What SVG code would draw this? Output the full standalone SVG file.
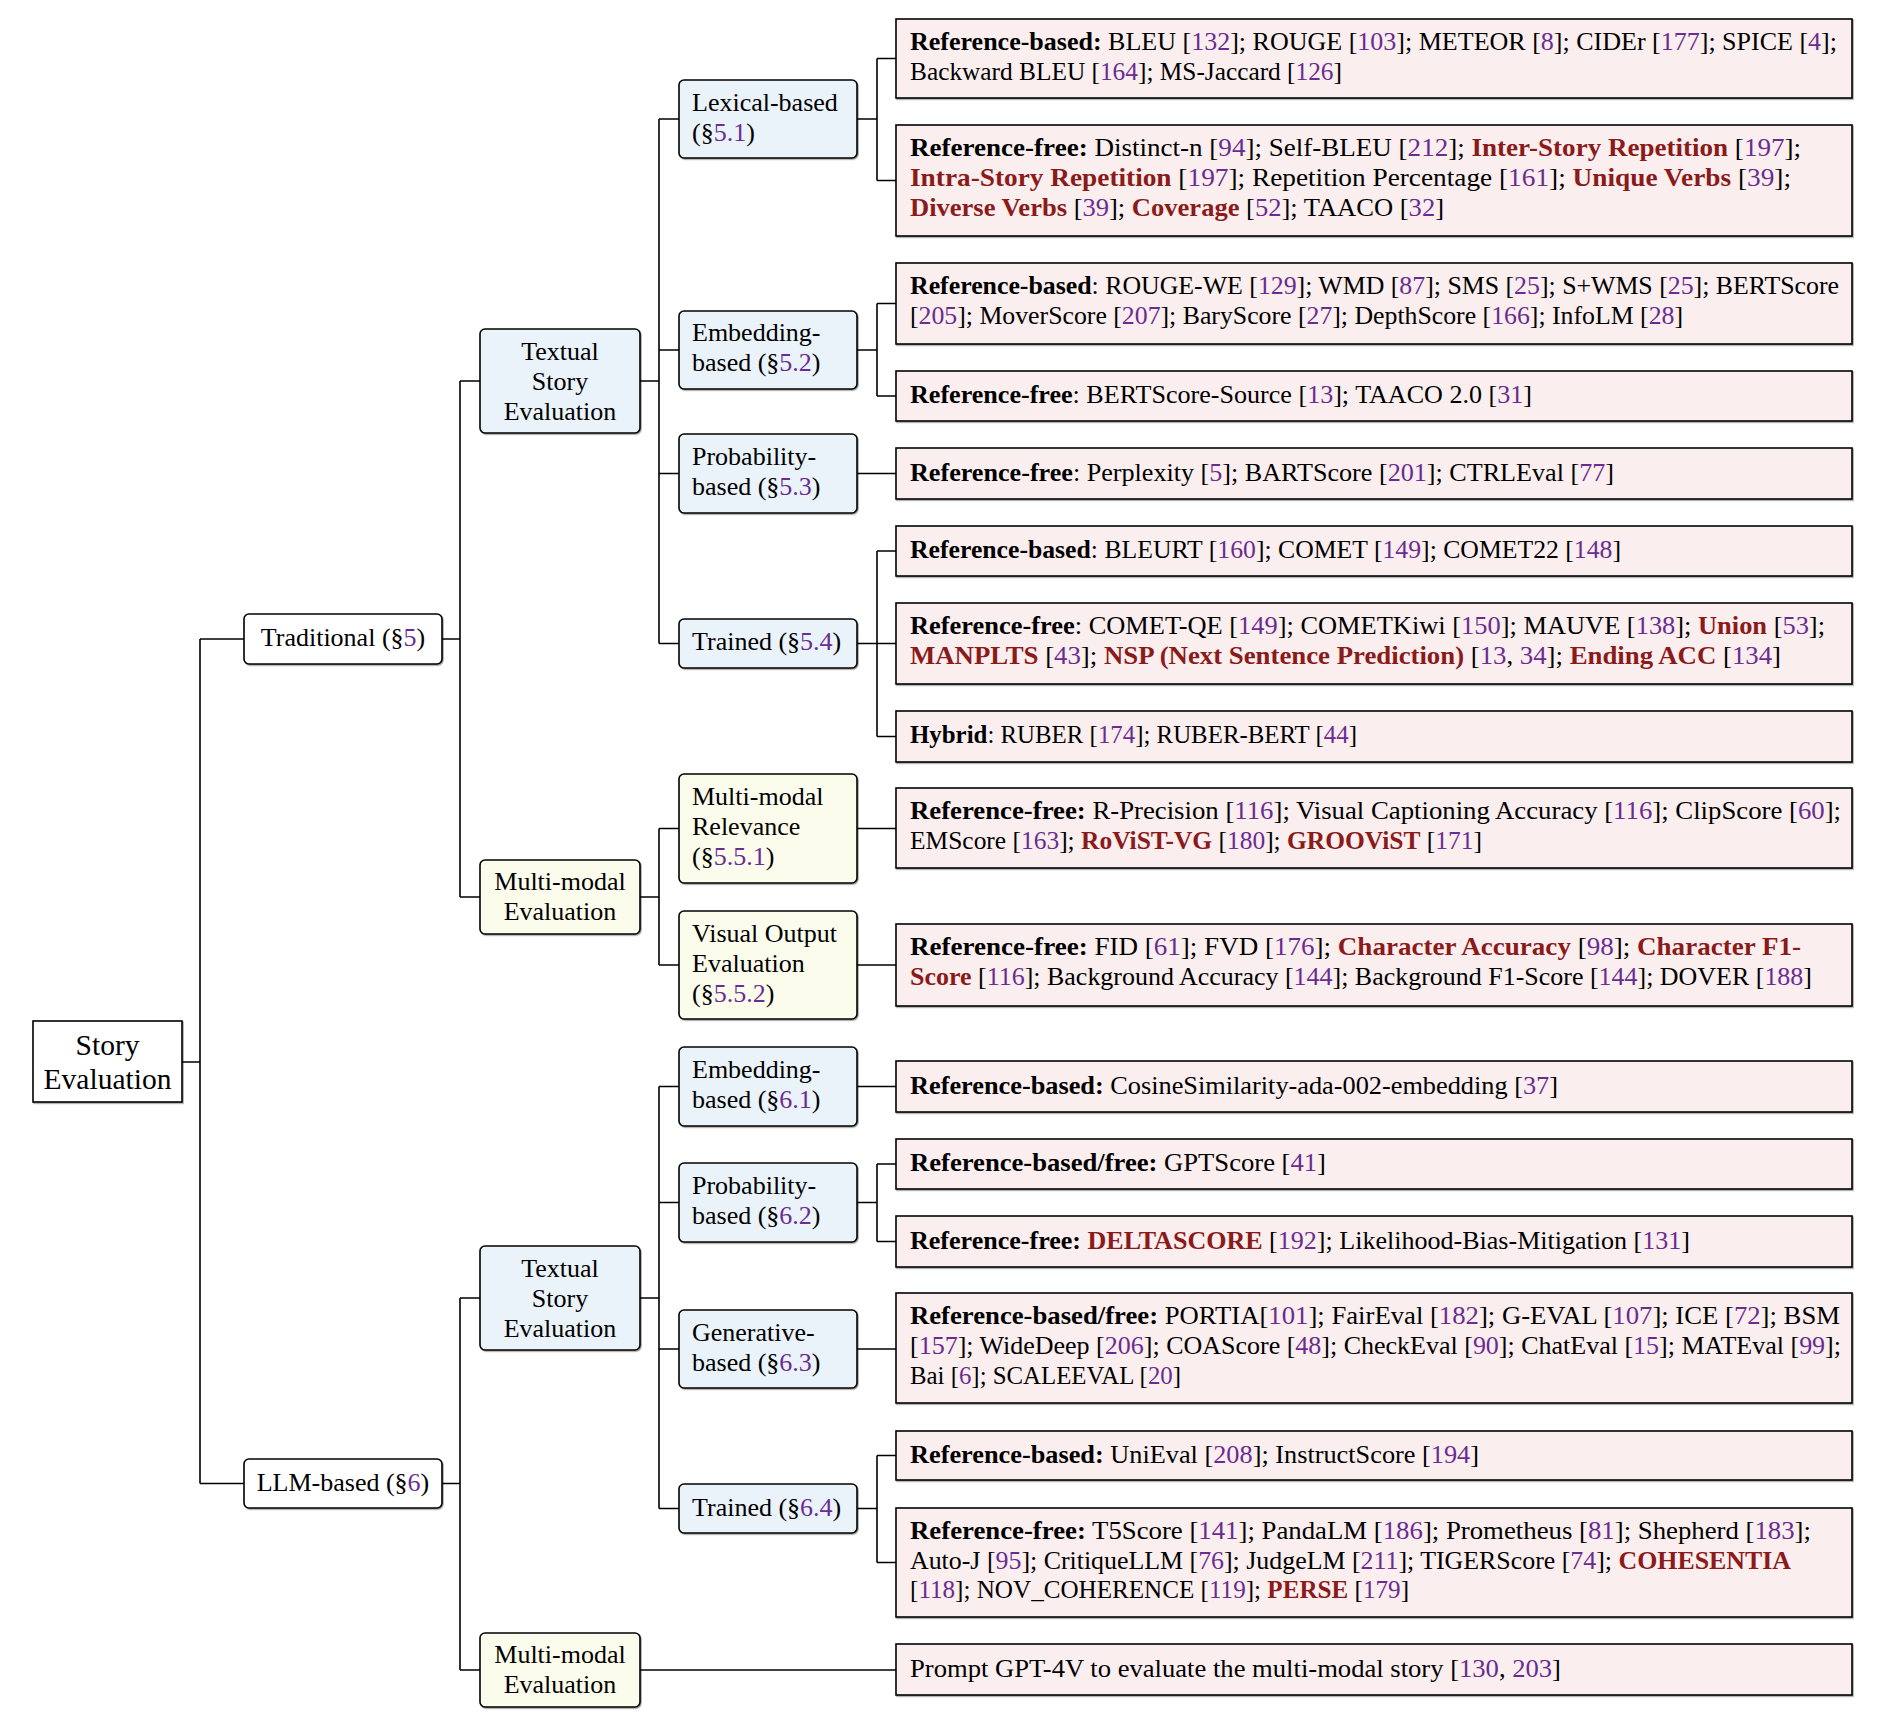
<svg xmlns="http://www.w3.org/2000/svg" width="1878" height="1734" viewBox="0 0 1878 1734">
  <defs>
    <filter id="shadow" x="-5%" y="-5%" width="110%" height="115%">
      <feDropShadow dx="1" dy="1.2" stdDeviation="0.5" flood-color="#000" flood-opacity="0.35"/>
    </filter>
    <style>
      text { font-family: "Liberation Serif", "Times New Roman", serif; font-size: 26px; fill: #000; }
      .root text { font-size: 29.5px; }
      .mid { text-anchor: middle; }
      .b { font-weight: bold; }
      .r { font-weight: bold; fill: #8B1A1A; }
      .p { fill: #6A2C91; }
      .box { stroke: #000; stroke-width: 1.6; filter: url(#shadow); }
      .plain { fill: #ffffff; }
      .blue { fill: #EAF2FA; }
      .yellow { fill: #FCFCEC; }
      .leaf { fill: #FAEEEE; }
      .edges path { fill: none; stroke: #000; stroke-width: 1.6; }
    </style>
  </defs>
  <rect width="1878" height="1734" fill="#ffffff"/>

  <!-- connectors -->
  <g class="edges">
    <path d="M182 1062H200M200 639V1483.5M200 639H244M200 1483.5H244"/>
    <path d="M442 639H460M460 381V897M460 381H480M460 897H480"/>
    <path d="M442 1483.5H460M460 1298V1670M460 1298H480M460 1670H480"/>
    <path d="M640 381H659M659 119V643.5M659 119H679M659 350H679M659 473.5H679M659 643.5H679"/>
    <path d="M640 897H659M659 828.5V965M659 828.5H679M659 965H679"/>
    <path d="M640 1298H659M659 1086.5V1508.5M659 1086.5H679M659 1202.5H679M659 1349H679M659 1508.5H679"/>
    <path d="M640 1670H896"/>
    <path d="M857 119H877M877 58.5V180.5M877 58.5H896M877 180.5H896"/>
    <path d="M857 350H877M877 303.5V396M877 303.5H896M877 396H896"/>
    <path d="M857 473.5H896"/>
    <path d="M857 643.5H896M877 551V736.5M877 551H896M877 736.5H896"/>
    <path d="M857 828.5H896"/>
    <path d="M857 965H896"/>
    <path d="M857 1086.5H896"/>
    <path d="M857 1202.5H877M877 1164V1241.5M877 1164H896M877 1241.5H896"/>
    <path d="M857 1349H896"/>
    <path d="M857 1508.5H877M877 1455.5V1562.5M877 1455.5H896M877 1562.5H896"/>
  </g>

  <!-- root -->
  <g id="story-evaluation" class="root">
    <rect class="box plain" x="33" y="1021" width="149" height="81"/>
    <text class="mid" x="107.5" y="1055">Story</text>
    <text class="mid" x="107.5" y="1089">Evaluation</text>
  </g>

  <!-- first level -->
  <g id="traditional">
    <rect class="box plain" x="244" y="614" width="198" height="50" rx="5"/>
    <text class="mid" x="343" y="646">Traditional (§<tspan class="p">5</tspan>)</text>
  </g>
  <g id="llm-based">
    <rect class="box plain" x="244" y="1459" width="198" height="49" rx="5"/>
    <text class="mid" x="343" y="1491">LLM-based (§<tspan class="p">6</tspan>)</text>
  </g>

  <!-- second level -->
  <g id="trad-textual">
    <rect class="box blue" x="480" y="329" width="160" height="104" rx="5"/>
    <text class="mid" x="560" y="360">Textual</text>
    <text class="mid" x="560" y="390">Story</text>
    <text class="mid" x="560" y="420">Evaluation</text>
  </g>
  <g id="trad-multimodal">
    <rect class="box yellow" x="480" y="860" width="160" height="74" rx="5"/>
    <text class="mid" x="560" y="890">Multi-modal</text>
    <text class="mid" x="560" y="920">Evaluation</text>
  </g>
  <g id="llm-textual">
    <rect class="box blue" x="480" y="1246" width="160" height="104" rx="5"/>
    <text class="mid" x="560" y="1277">Textual</text>
    <text class="mid" x="560" y="1307">Story</text>
    <text class="mid" x="560" y="1337">Evaluation</text>
  </g>
  <g id="llm-multimodal">
    <rect class="box yellow" x="480" y="1633" width="160" height="74" rx="5"/>
    <text class="mid" x="560" y="1663">Multi-modal</text>
    <text class="mid" x="560" y="1693">Evaluation</text>
  </g>

  <!-- third level -->
  <g id="lexical">
    <rect class="box blue" x="679" y="80" width="178" height="78" rx="5"/>
    <text x="692" y="111">Lexical-based</text>
    <text x="692" y="141">(§<tspan class="p">5.1</tspan>)</text>
  </g>
  <g id="embedding-52">
    <rect class="box blue" x="679" y="311" width="178" height="78" rx="5"/>
    <text x="692" y="341">Embedding-</text>
    <text x="692" y="371">based (§<tspan class="p">5.2</tspan>)</text>
  </g>
  <g id="probability-53">
    <rect class="box blue" x="679" y="434" width="178" height="79" rx="5"/>
    <text x="692" y="465">Probability-</text>
    <text x="692" y="495">based (§<tspan class="p">5.3</tspan>)</text>
  </g>
  <g id="trained-54">
    <rect class="box blue" x="679" y="619" width="178" height="49" rx="5"/>
    <text x="692" y="650">Trained (§<tspan class="p">5.4</tspan>)</text>
  </g>
  <g id="mm-relevance">
    <rect class="box yellow" x="679" y="774" width="178" height="109" rx="5"/>
    <text x="692" y="805">Multi-modal</text>
    <text x="692" y="835">Relevance</text>
    <text x="692" y="865">(§<tspan class="p">5.5.1</tspan>)</text>
  </g>
  <g id="visual-output">
    <rect class="box yellow" x="679" y="911" width="178" height="108" rx="5"/>
    <text x="692" y="942">Visual Output</text>
    <text x="692" y="972">Evaluation</text>
    <text x="692" y="1002">(§<tspan class="p">5.5.2</tspan>)</text>
  </g>
  <g id="embedding-61">
    <rect class="box blue" x="679" y="1047" width="178" height="79" rx="5"/>
    <text x="692" y="1078">Embedding-</text>
    <text x="692" y="1108">based (§<tspan class="p">6.1</tspan>)</text>
  </g>
  <g id="probability-62">
    <rect class="box blue" x="679" y="1163" width="178" height="79" rx="5"/>
    <text x="692" y="1194">Probability-</text>
    <text x="692" y="1224">based (§<tspan class="p">6.2</tspan>)</text>
  </g>
  <g id="generative-63">
    <rect class="box blue" x="679" y="1310" width="178" height="78" rx="5"/>
    <text x="692" y="1341">Generative-</text>
    <text x="692" y="1371">based (§<tspan class="p">6.3</tspan>)</text>
  </g>
  <g id="trained-64">
    <rect class="box blue" x="679" y="1484" width="178" height="49" rx="5"/>
    <text x="692" y="1516">Trained (§<tspan class="p">6.4</tspan>)</text>
  </g>

  <!-- metric lists -->
  <g id="lexical-ref-based">
    <rect class="box leaf" x="896" y="19" width="956" height="79"/>
    <text x="910" y="50" textLength="927" lengthAdjust="spacingAndGlyphs"><tspan class="b">Reference-based:</tspan> BLEU [<tspan class="p">132</tspan>]; ROUGE [<tspan class="p">103</tspan>]; METEOR [<tspan class="p">8</tspan>]; CIDEr [<tspan class="p">177</tspan>]; SPICE [<tspan class="p">4</tspan>];</text>
    <text x="910" y="80" textLength="432" lengthAdjust="spacingAndGlyphs">Backward BLEU [<tspan class="p">164</tspan>]; MS-Jaccard [<tspan class="p">126</tspan>]</text>
  </g>
  <g id="lexical-ref-free">
    <rect class="box leaf" x="896" y="125" width="956" height="111"/>
    <text x="910" y="156" textLength="891" lengthAdjust="spacingAndGlyphs"><tspan class="b">Reference-free:</tspan> Distinct-n [<tspan class="p">94</tspan>]; Self-BLEU [<tspan class="p">212</tspan>]; <tspan class="r">Inter-Story Repetition</tspan> [<tspan class="p">197</tspan>];</text>
    <text x="910" y="186" textLength="881" lengthAdjust="spacingAndGlyphs"><tspan class="r">Intra-Story Repetition</tspan> [<tspan class="p">197</tspan>]; Repetition Percentage [<tspan class="p">161</tspan>]; <tspan class="r">Unique Verbs</tspan> [<tspan class="p">39</tspan>];</text>
    <text x="910" y="216" textLength="534" lengthAdjust="spacingAndGlyphs"><tspan class="r">Diverse Verbs</tspan> [<tspan class="p">39</tspan>]; <tspan class="r">Coverage</tspan> [<tspan class="p">52</tspan>]; TAACO [<tspan class="p">32</tspan>]</text>
  </g>
  <g id="embedding-ref-based">
    <rect class="box leaf" x="896" y="263" width="956" height="81"/>
    <text x="910" y="294" textLength="929" lengthAdjust="spacingAndGlyphs"><tspan class="b">Reference-based</tspan>: ROUGE-WE [<tspan class="p">129</tspan>]; WMD [<tspan class="p">87</tspan>]; SMS [<tspan class="p">25</tspan>]; S+WMS [<tspan class="p">25</tspan>]; BERTScore</text>
    <text x="910" y="324" textLength="773" lengthAdjust="spacingAndGlyphs">[<tspan class="p">205</tspan>]; MoverScore [<tspan class="p">207</tspan>]; BaryScore [<tspan class="p">27</tspan>]; DepthScore [<tspan class="p">166</tspan>]; InfoLM [<tspan class="p">28</tspan>]</text>
  </g>
  <g id="embedding-ref-free">
    <rect class="box leaf" x="896" y="371" width="956" height="50"/>
    <text x="910" y="403" textLength="622" lengthAdjust="spacingAndGlyphs"><tspan class="b">Reference-free</tspan>: BERTScore-Source [<tspan class="p">13</tspan>]; TAACO 2.0 [<tspan class="p">31</tspan>]</text>
  </g>
  <g id="probability-ref-free">
    <rect class="box leaf" x="896" y="448" width="956" height="51"/>
    <text x="910" y="481" textLength="704" lengthAdjust="spacingAndGlyphs"><tspan class="b">Reference-free</tspan>: Perplexity [<tspan class="p">5</tspan>]; BARTScore [<tspan class="p">201</tspan>]; CTRLEval [<tspan class="p">77</tspan>]</text>
  </g>
  <g id="trained-ref-based">
    <rect class="box leaf" x="896" y="526" width="956" height="50"/>
    <text x="910" y="558" textLength="711" lengthAdjust="spacingAndGlyphs"><tspan class="b">Reference-based</tspan>: BLEURT [<tspan class="p">160</tspan>]; COMET [<tspan class="p">149</tspan>]; COMET22 [<tspan class="p">148</tspan>]</text>
  </g>
  <g id="trained-ref-free">
    <rect class="box leaf" x="896" y="603" width="956" height="81"/>
    <text x="910" y="634" textLength="915" lengthAdjust="spacingAndGlyphs"><tspan class="b">Reference-free</tspan>: COMET-QE [<tspan class="p">149</tspan>]; COMETKiwi [<tspan class="p">150</tspan>]; MAUVE [<tspan class="p">138</tspan>]; <tspan class="r">Union</tspan> [<tspan class="p">53</tspan>];</text>
    <text x="910" y="664" textLength="871" lengthAdjust="spacingAndGlyphs"><tspan class="r">MANPLTS</tspan> [<tspan class="p">43</tspan>]; <tspan class="r">NSP (Next Sentence Prediction)</tspan> [<tspan class="p">13</tspan>, <tspan class="p">34</tspan>]; <tspan class="r">Ending ACC</tspan> [<tspan class="p">134</tspan>]</text>
  </g>
  <g id="trained-hybrid">
    <rect class="box leaf" x="896" y="711" width="956" height="51"/>
    <text x="910" y="743" textLength="447" lengthAdjust="spacingAndGlyphs"><tspan class="b">Hybrid</tspan>: RUBER [<tspan class="p">174</tspan>]; RUBER-BERT [<tspan class="p">44</tspan>]</text>
  </g>
  <g id="relevance-ref-free">
    <rect class="box leaf" x="896" y="788" width="956" height="80"/>
    <text x="910" y="819" textLength="931" lengthAdjust="spacingAndGlyphs"><tspan class="b">Reference-free:</tspan> R-Precision [<tspan class="p">116</tspan>]; Visual Captioning Accuracy [<tspan class="p">116</tspan>]; ClipScore [<tspan class="p">60</tspan>];</text>
    <text x="910" y="849" textLength="572" lengthAdjust="spacingAndGlyphs">EMScore [<tspan class="p">163</tspan>]; <tspan class="r">RoViST-VG</tspan> [<tspan class="p">180</tspan>]; <tspan class="r">GROOViST</tspan> [<tspan class="p">171</tspan>]</text>
  </g>
  <g id="visual-ref-free">
    <rect class="box leaf" x="896" y="924" width="956" height="82"/>
    <text x="910" y="955" textLength="891" lengthAdjust="spacingAndGlyphs"><tspan class="b">Reference-free:</tspan> FID [<tspan class="p">61</tspan>]; FVD [<tspan class="p">176</tspan>]; <tspan class="r">Character Accuracy</tspan> [<tspan class="p">98</tspan>]; <tspan class="r">Character F1-</tspan></text>
    <text x="910" y="985" textLength="902" lengthAdjust="spacingAndGlyphs"><tspan class="r">Score</tspan> [<tspan class="p">116</tspan>]; Background Accuracy [<tspan class="p">144</tspan>]; Background F1-Score [<tspan class="p">144</tspan>]; DOVER [<tspan class="p">188</tspan>]</text>
  </g>
  <g id="llm-embedding-ref-based">
    <rect class="box leaf" x="896" y="1061" width="956" height="51"/>
    <text x="910" y="1094" textLength="648" lengthAdjust="spacingAndGlyphs"><tspan class="b">Reference-based:</tspan> CosineSimilarity-ada-002-embedding [<tspan class="p">37</tspan>]</text>
  </g>
  <g id="llm-probability-both">
    <rect class="box leaf" x="896" y="1139" width="956" height="50"/>
    <text x="910" y="1171" textLength="416" lengthAdjust="spacingAndGlyphs"><tspan class="b">Reference-based/free:</tspan> GPTScore [<tspan class="p">41</tspan>]</text>
  </g>
  <g id="llm-probability-ref-free">
    <rect class="box leaf" x="896" y="1216" width="956" height="51"/>
    <text x="910" y="1249" textLength="780" lengthAdjust="spacingAndGlyphs"><tspan class="b">Reference-free:</tspan> <tspan class="r">DELTASCORE</tspan> [<tspan class="p">192</tspan>]; Likelihood-Bias-Mitigation [<tspan class="p">131</tspan>]</text>
  </g>
  <g id="generative-both">
    <rect class="box leaf" x="896" y="1293" width="956" height="110"/>
    <text x="910" y="1324" textLength="930" lengthAdjust="spacingAndGlyphs"><tspan class="b">Reference-based/free:</tspan> PORTIA[<tspan class="p">101</tspan>]; FairEval [<tspan class="p">182</tspan>]; G-EVAL [<tspan class="p">107</tspan>]; ICE [<tspan class="p">72</tspan>]; BSM</text>
    <text x="910" y="1354" textLength="931" lengthAdjust="spacingAndGlyphs">[<tspan class="p">157</tspan>]; WideDeep [<tspan class="p">206</tspan>]; COAScore [<tspan class="p">48</tspan>]; CheckEval [<tspan class="p">90</tspan>]; ChatEval [<tspan class="p">15</tspan>]; MATEval [<tspan class="p">99</tspan>];</text>
    <text x="910" y="1384" textLength="271" lengthAdjust="spacingAndGlyphs">Bai [<tspan class="p">6</tspan>]; SCALEEVAL [<tspan class="p">20</tspan>]</text>
  </g>
  <g id="llm-trained-ref-based">
    <rect class="box leaf" x="896" y="1431" width="956" height="49"/>
    <text x="910" y="1463" textLength="569" lengthAdjust="spacingAndGlyphs"><tspan class="b">Reference-based:</tspan> UniEval [<tspan class="p">208</tspan>]; InstructScore [<tspan class="p">194</tspan>]</text>
  </g>
  <g id="llm-trained-ref-free">
    <rect class="box leaf" x="896" y="1508" width="956" height="109"/>
    <text x="910" y="1539" textLength="901" lengthAdjust="spacingAndGlyphs"><tspan class="b">Reference-free:</tspan> T5Score [<tspan class="p">141</tspan>]; PandaLM [<tspan class="p">186</tspan>]; Prometheus [<tspan class="p">81</tspan>]; Shepherd [<tspan class="p">183</tspan>];</text>
    <text x="910" y="1569" textLength="881" lengthAdjust="spacingAndGlyphs">Auto-J [<tspan class="p">95</tspan>]; CritiqueLLM [<tspan class="p">76</tspan>]; JudgeLM [<tspan class="p">211</tspan>]; TIGERScore [<tspan class="p">74</tspan>]; <tspan class="r">COHESENTIA</tspan></text>
    <text x="910" y="1598" textLength="499" lengthAdjust="spacingAndGlyphs">[<tspan class="p">118</tspan>]; NOV_COHERENCE [<tspan class="p">119</tspan>]; <tspan class="r">PERSE</tspan> [<tspan class="p">179</tspan>]</text>
  </g>
  <g id="llm-multimodal-prompt">
    <rect class="box leaf" x="896" y="1644" width="956" height="51"/>
    <text x="910" y="1677" textLength="651" lengthAdjust="spacingAndGlyphs">Prompt GPT-4V to evaluate the multi-modal story [<tspan class="p">130</tspan>, <tspan class="p">203</tspan>]</text>
  </g>
</svg>
